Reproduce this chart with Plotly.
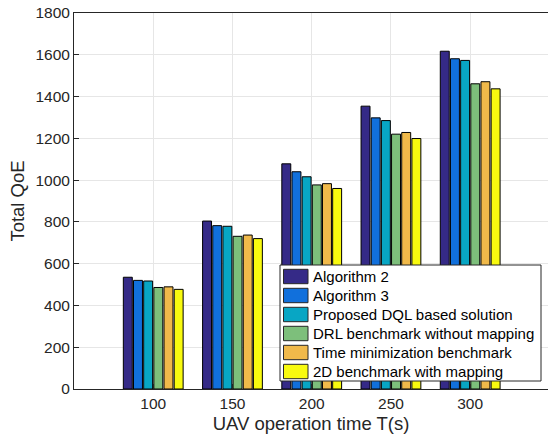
import plotly.graph_objects as go

# UAV operation time (s) on the x axis
times = [100, 150, 200, 250, 300]

# Total QoE for each scheme
algorithm2 = [535, 804, 1078, 1354, 1617]
algorithm3 = [520, 782, 1040, 1298, 1581]
proposed_dql = [517, 779, 1016, 1285, 1573]
drl_no_mapping = [486, 731, 977, 1220, 1461]
time_min = [489, 737, 983, 1228, 1471]
bench_2d = [477, 720, 960, 1199, 1437]

names = [
    "Algorithm 2",
    "Algorithm 3",
    "Proposed DQL based solution",
    "DRL benchmark without mapping",
    "Time minimization benchmark",
    "2D benchmark with mapping",
]
values = [algorithm2, algorithm3, proposed_dql, drl_no_mapping, time_min, bench_2d]
colors = ["#352a87", "#1170dc", "#08a6c4", "#7dbf7b", "#f0b94a", "#f8fa0f"]

y_ticks = list(range(0, 1801, 200))

W, H = 548, 438
ML, MR, MT, MB = 74, 0, 13, 49
PW, PH = W - ML - MR, H - MT - MB


def px(x):
    """pixel column -> paper x"""
    return (x - ML) / PW


def py(y):
    """pixel row -> paper y"""
    return (H - MB - y) / PH


fig = go.Figure()
for name, vals, color in zip(names, values, colors):
    fig.add_trace(go.Bar(
        x=times, y=vals, name=name,
        marker=dict(color=color, line=dict(color="black", width=1)),
    ))

font_family = "Liberation Sans, Arial, sans-serif"

# Boxed legend with wide swatches, drawn inside the lower right of the axes
shapes = [dict(
    type="rect", xref="paper", yref="paper", layer="above",
    x0=px(280), x1=px(541), y0=py(381), y1=py(265),
    fillcolor="white", line=dict(color="#262626", width=1),
)]
annotations = []
row_h = 19.0
for i, (name, color) in enumerate(zip(names, colors)):
    cy = 276.5 + i * row_h
    shapes.append(dict(
        type="rect", xref="paper", yref="paper", layer="above",
        x0=px(283.5), x1=px(308), y0=py(cy + 7.2), y1=py(cy - 7.2),
        fillcolor=color, line=dict(color="#262626", width=1),
    ))
    annotations.append(dict(
        xref="paper", yref="paper", x=px(310.5), y=py(cy),
        xanchor="left", yanchor="middle", text=name, showarrow=False,
        font=dict(size=15, color="black", family=font_family),
    ))

fig.update_layout(
    width=W, height=H,
    margin=dict(l=ML, r=MR, t=MT, b=MB),
    paper_bgcolor="white", plot_bgcolor="white",
    barmode="group", bargap=0.23, bargroupgap=0.12,
    font=dict(family=font_family, size=15, color="#262626"),
    showlegend=False,
    shapes=shapes,
    annotations=annotations,
)

fig.update_xaxes(
    range=[50, 349.1],
    tickvals=times, ticktext=[str(t) for t in times],
    ticks="inside", ticklen=5, tickcolor="#262626",
    showline=True, linecolor="#262626", linewidth=1, mirror=True,
    showgrid=True, gridcolor="#e6e6e6", gridwidth=1,
    zeroline=False,
    title=dict(text="UAV operation time T(s)", font=dict(size=18.5), standoff=6),
    tickfont=dict(size=15.5),
)
fig.update_yaxes(
    range=[0, 1800],
    tickvals=y_ticks,
    ticks="inside", ticklen=5, tickcolor="#262626",
    showline=True, linecolor="#262626", linewidth=1,
    showgrid=True, gridcolor="#e6e6e6", gridwidth=1,
    zeroline=False,
    title=dict(text="Total QoE", font=dict(size=18.5), standoff=5),
    tickfont=dict(size=15.5),
)

fig.write_html("out.html")
